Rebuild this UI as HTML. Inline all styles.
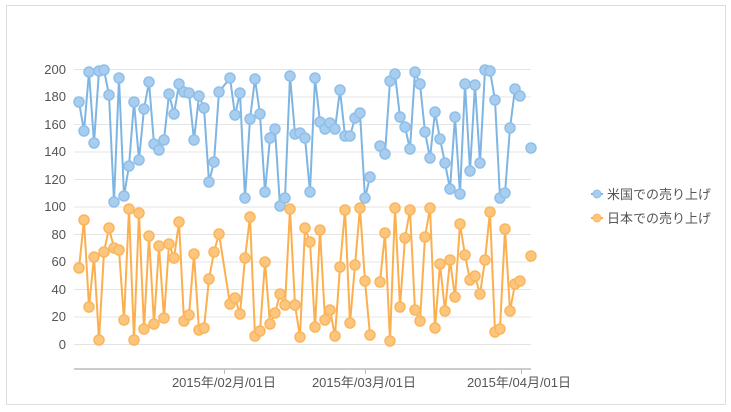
<!DOCTYPE html>
<html><head><meta charset="utf-8"><style>
html,body{margin:0;padding:0;background:#fff;}
svg{display:block;font-family:"Liberation Sans","Noto Sans CJK JP",sans-serif;}
</style></head><body>
<svg width="731" height="412" viewBox="0 0 731 412" xmlns="http://www.w3.org/2000/svg">
<rect x="6.5" y="5.5" width="719" height="399" fill="#fff" stroke="#ddd"/>
<g stroke="#e4e4e4" stroke-width="1">
<line x1="74" x2="531" y1="69.5" y2="69.5"/><line x1="74" x2="531" y1="97" y2="97"/>
<line x1="74" x2="531" y1="124.5" y2="124.5"/><line x1="74" x2="531" y1="152" y2="152"/>
<line x1="74" x2="531" y1="179.5" y2="179.5"/><line x1="74" x2="531" y1="207" y2="207"/>
<line x1="74" x2="531" y1="234.5" y2="234.5"/><line x1="74" x2="531" y1="262" y2="262"/>
<line x1="74" x2="531" y1="289.5" y2="289.5"/><line x1="74" x2="531" y1="317" y2="317"/>
<line x1="74" x2="531" y1="344.5" y2="344.5"/>
</g>
<line x1="74" x2="531" y1="369" y2="369" stroke="#ccc" stroke-width="2"/>
<g stroke="#bbb"><line x1="224.5" x2="224.5" y1="369" y2="374"/><line x1="365.5" x2="365.5" y1="369" y2="374"/><line x1="521.5" x2="521.5" y1="369" y2="374"/></g>
<g fill="#555" font-size="13" text-anchor="end">
<text x="66" y="74">200</text><text x="66" y="101">180</text><text x="66" y="129">160</text>
<text x="66" y="156">140</text><text x="66" y="184">120</text><text x="66" y="211">100</text>
<text x="66" y="239">80</text><text x="66" y="266">60</text><text x="66" y="294">40</text>
<text x="66" y="321">20</text><text x="66" y="349">0</text>
</g>
<g fill="#555" font-size="13" text-anchor="middle">
<text x="224" y="387">2015年/02月/01日</text><text x="364" y="387">2015年/03月/01日</text><text x="519" y="387">2015年/04月/01日</text>
</g>
<g id="blue" fill="none" stroke="#7fb5e3" stroke-width="2" stroke-linejoin="round">
<polyline points="79,102 84,131 89,72 94,143 99,71 104,70 109,95 114,202 119,78 124,196 129,166 134,102 139,160 144,109 149,82 154,144 159,150 164,140 169,94 174,114 179,84 184,92 189,93 194,140 199,96 204,108 209,182 214,162 219,92 230,78 235,115 240,93 245,198 250,119 255,79 260,114 265,192 270,138 275,129 280,206 285,198 290,76 295,134 300,133 305,138 310,192 315,78 320,122 325,129 330,123 335,129 340,90 345,136 350,136 355,118 360,113 365,198 370,177"/>
<polyline points="380,146 385,154 390,81 395,74 400,117 405,127 410,149 415,72 420,84 425,132 430,158 435,112 440,139 445,163 450,189 455,117 460,194 465,84 470,171 475,85 480,163 485,70 490,71 495,100 500,198 505,193 510,128 515,89 520,96"/>
</g>
<g fill="none" stroke="#fbaf4f" stroke-width="2" stroke-linejoin="round">
<polyline points="79,268 84,220 89,307 94,257 99,340 104,252 109,228 114,248 119,250 124,320 129,209 134,340 139,213 144,329 149,236 154,324 159,246 164,318 169,244 174,258 179,222 184,321 189,315 194,254 199,330 204,328 209,279 214,252 219,234 230,304 235,298 240,314 245,258 250,217 255,336 260,331 265,262 270,324 275,313 280,294 285,305 290,209 295,305 300,337 305,228 310,242 315,327 320,230 325,320 330,310 335,336 340,267 345,210 350,323 355,265 360,208 365,281 370,335"/>
<polyline points="380,282 385,233 390,341 395,208 400,307 405,238 410,210 415,310 420,321 425,237 430,208 435,328 440,264 445,311 450,260 455,297 460,224 465,255 470,280 475,276 480,294 485,260 490,212 495,332 500,329 505,229 510,311 515,284 520,281"/>
</g>
<g id="bm" fill="#a9cdee" stroke="#8ec0ea" stroke-width="1.5"></g>
<g id="om" fill="#fcc67f" stroke="#fbb65c" stroke-width="1.5"></g>
<g font-size="13" fill="#555">
<line x1="591" x2="603" y1="194" y2="194" stroke="#7fb5e3" stroke-width="2"/><circle cx="597" cy="194" r="4" fill="#a9cdee" stroke="#8ec0ea"/>
<text x="607" y="199">米国での売り上げ</text>
<line x1="591" x2="603" y1="218" y2="218" stroke="#fbaf4f" stroke-width="2"/><circle cx="597" cy="218" r="4" fill="#fcc67f" stroke="#fbb65c"/>
<text x="607" y="223">日本での売り上げ</text>
</g>
<g fill="#a9cdee" stroke="#8ec0ea" stroke-width="1.5">
<circle cx="79" cy="102" r="5"/><circle cx="84" cy="131" r="5"/><circle cx="89" cy="72" r="5"/><circle cx="94" cy="143" r="5"/><circle cx="99" cy="71" r="5"/><circle cx="104" cy="70" r="5"/><circle cx="109" cy="95" r="5"/><circle cx="114" cy="202" r="5"/><circle cx="119" cy="78" r="5"/><circle cx="124" cy="196" r="5"/><circle cx="129" cy="166" r="5"/><circle cx="134" cy="102" r="5"/><circle cx="139" cy="160" r="5"/><circle cx="144" cy="109" r="5"/><circle cx="149" cy="82" r="5"/><circle cx="154" cy="144" r="5"/><circle cx="159" cy="150" r="5"/><circle cx="164" cy="140" r="5"/><circle cx="169" cy="94" r="5"/><circle cx="174" cy="114" r="5"/><circle cx="179" cy="84" r="5"/><circle cx="184" cy="92" r="5"/><circle cx="189" cy="93" r="5"/><circle cx="194" cy="140" r="5"/><circle cx="199" cy="96" r="5"/><circle cx="204" cy="108" r="5"/><circle cx="209" cy="182" r="5"/><circle cx="214" cy="162" r="5"/><circle cx="219" cy="92" r="5"/><circle cx="230" cy="78" r="5"/><circle cx="235" cy="115" r="5"/><circle cx="240" cy="93" r="5"/><circle cx="245" cy="198" r="5"/><circle cx="250" cy="119" r="5"/><circle cx="255" cy="79" r="5"/><circle cx="260" cy="114" r="5"/><circle cx="265" cy="192" r="5"/><circle cx="270" cy="138" r="5"/><circle cx="275" cy="129" r="5"/><circle cx="280" cy="206" r="5"/><circle cx="285" cy="198" r="5"/><circle cx="290" cy="76" r="5"/><circle cx="295" cy="134" r="5"/><circle cx="300" cy="133" r="5"/><circle cx="305" cy="138" r="5"/><circle cx="310" cy="192" r="5"/><circle cx="315" cy="78" r="5"/><circle cx="320" cy="122" r="5"/><circle cx="325" cy="129" r="5"/><circle cx="330" cy="123" r="5"/><circle cx="335" cy="129" r="5"/><circle cx="340" cy="90" r="5"/><circle cx="345" cy="136" r="5"/><circle cx="350" cy="136" r="5"/><circle cx="355" cy="118" r="5"/><circle cx="360" cy="113" r="5"/><circle cx="365" cy="198" r="5"/><circle cx="370" cy="177" r="5"/>
<circle cx="380" cy="146" r="5"/><circle cx="385" cy="154" r="5"/><circle cx="390" cy="81" r="5"/><circle cx="395" cy="74" r="5"/><circle cx="400" cy="117" r="5"/><circle cx="405" cy="127" r="5"/><circle cx="410" cy="149" r="5"/><circle cx="415" cy="72" r="5"/><circle cx="420" cy="84" r="5"/><circle cx="425" cy="132" r="5"/><circle cx="430" cy="158" r="5"/><circle cx="435" cy="112" r="5"/><circle cx="440" cy="139" r="5"/><circle cx="445" cy="163" r="5"/><circle cx="450" cy="189" r="5"/><circle cx="455" cy="117" r="5"/><circle cx="460" cy="194" r="5"/><circle cx="465" cy="84" r="5"/><circle cx="470" cy="171" r="5"/><circle cx="475" cy="85" r="5"/><circle cx="480" cy="163" r="5"/><circle cx="485" cy="70" r="5"/><circle cx="490" cy="71" r="5"/><circle cx="495" cy="100" r="5"/><circle cx="500" cy="198" r="5"/><circle cx="505" cy="193" r="5"/><circle cx="510" cy="128" r="5"/><circle cx="515" cy="89" r="5"/><circle cx="520" cy="96" r="5"/><circle cx="531" cy="148" r="5"/>
</g>
<g fill="#fcc67f" stroke="#fbb65c" stroke-width="1.5">
<circle cx="79" cy="268" r="5"/><circle cx="84" cy="220" r="5"/><circle cx="89" cy="307" r="5"/><circle cx="94" cy="257" r="5"/><circle cx="99" cy="340" r="5"/><circle cx="104" cy="252" r="5"/><circle cx="109" cy="228" r="5"/><circle cx="114" cy="248" r="5"/><circle cx="119" cy="250" r="5"/><circle cx="124" cy="320" r="5"/><circle cx="129" cy="209" r="5"/><circle cx="134" cy="340" r="5"/><circle cx="139" cy="213" r="5"/><circle cx="144" cy="329" r="5"/><circle cx="149" cy="236" r="5"/><circle cx="154" cy="324" r="5"/><circle cx="159" cy="246" r="5"/><circle cx="164" cy="318" r="5"/><circle cx="169" cy="244" r="5"/><circle cx="174" cy="258" r="5"/><circle cx="179" cy="222" r="5"/><circle cx="184" cy="321" r="5"/><circle cx="189" cy="315" r="5"/><circle cx="194" cy="254" r="5"/><circle cx="199" cy="330" r="5"/><circle cx="204" cy="328" r="5"/><circle cx="209" cy="279" r="5"/><circle cx="214" cy="252" r="5"/><circle cx="219" cy="234" r="5"/><circle cx="230" cy="304" r="5"/><circle cx="235" cy="298" r="5"/><circle cx="240" cy="314" r="5"/><circle cx="245" cy="258" r="5"/><circle cx="250" cy="217" r="5"/><circle cx="255" cy="336" r="5"/><circle cx="260" cy="331" r="5"/><circle cx="265" cy="262" r="5"/><circle cx="270" cy="324" r="5"/><circle cx="275" cy="313" r="5"/><circle cx="280" cy="294" r="5"/><circle cx="285" cy="305" r="5"/><circle cx="290" cy="209" r="5"/><circle cx="295" cy="305" r="5"/><circle cx="300" cy="337" r="5"/><circle cx="305" cy="228" r="5"/><circle cx="310" cy="242" r="5"/><circle cx="315" cy="327" r="5"/><circle cx="320" cy="230" r="5"/><circle cx="325" cy="320" r="5"/><circle cx="330" cy="310" r="5"/><circle cx="335" cy="336" r="5"/><circle cx="340" cy="267" r="5"/><circle cx="345" cy="210" r="5"/><circle cx="350" cy="323" r="5"/><circle cx="355" cy="265" r="5"/><circle cx="360" cy="208" r="5"/><circle cx="365" cy="281" r="5"/><circle cx="370" cy="335" r="5"/>
<circle cx="380" cy="282" r="5"/><circle cx="385" cy="233" r="5"/><circle cx="390" cy="341" r="5"/><circle cx="395" cy="208" r="5"/><circle cx="400" cy="307" r="5"/><circle cx="405" cy="238" r="5"/><circle cx="410" cy="210" r="5"/><circle cx="415" cy="310" r="5"/><circle cx="420" cy="321" r="5"/><circle cx="425" cy="237" r="5"/><circle cx="430" cy="208" r="5"/><circle cx="435" cy="328" r="5"/><circle cx="440" cy="264" r="5"/><circle cx="445" cy="311" r="5"/><circle cx="450" cy="260" r="5"/><circle cx="455" cy="297" r="5"/><circle cx="460" cy="224" r="5"/><circle cx="465" cy="255" r="5"/><circle cx="470" cy="280" r="5"/><circle cx="475" cy="276" r="5"/><circle cx="480" cy="294" r="5"/><circle cx="485" cy="260" r="5"/><circle cx="490" cy="212" r="5"/><circle cx="495" cy="332" r="5"/><circle cx="500" cy="329" r="5"/><circle cx="505" cy="229" r="5"/><circle cx="510" cy="311" r="5"/><circle cx="515" cy="284" r="5"/><circle cx="520" cy="281" r="5"/><circle cx="531" cy="256" r="5"/>
</g>
</svg>
</body></html>
